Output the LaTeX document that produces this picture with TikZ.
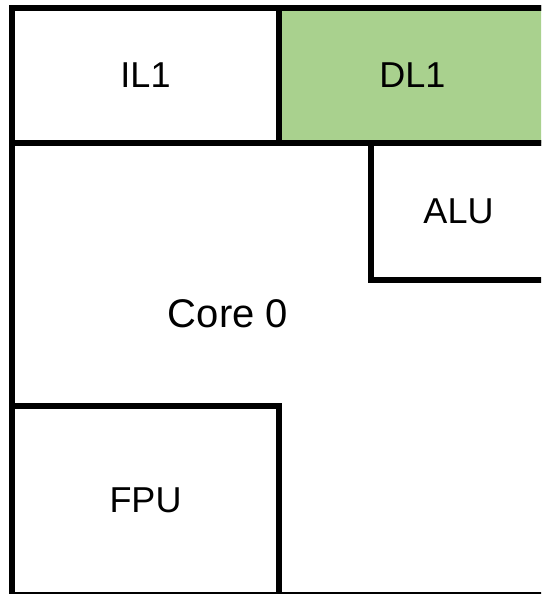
\documentclass[tikz,border=0pt]{standalone}
\usepackage{fontspec}
\setmainfont{Liberation Sans}
\usetikzlibrary{positioning}
\definecolor{cachegreen}{HTML}{A9D18E}
\begin{document}
\begin{tikzpicture}[x=1pt, y=-1pt,
		unit/.style={draw, line width=6pt, fill=white, inner sep=0pt, outer sep=0pt,
				font=\fontsize{36}{43}\selectfont}]
	\useasboundingbox (0,0) rectangle (541,594);
	\clip (0,0) rectangle (541,594);
	% core outline, runs off the right and bottom edges
	\node[unit, anchor=north west, minimum width=534pt, minimum height=587pt] (core) at (12,8) {};
	\node[font=\fontsize{40}{48}\selectfont] (corelbl) at (228,314) {Core 0};
	% caches on top
	\node[unit, anchor=north west, minimum width=267pt, minimum height=135pt] (il1) at (core.north west) {IL1};
	\node[unit, fill=cachegreen, right=0pt of il1, minimum width=267pt, minimum height=135pt] (dl1) {DL1};
	% execution units
	\node[unit, anchor=north east, minimum width=175pt, minimum height=137pt] (alu) at (dl1.south east) {ALU};
	\node[unit, anchor=south west, minimum width=267pt, minimum height=189pt] (fpu) at (core.south west) {FPU};
\end{tikzpicture}
\end{document}
